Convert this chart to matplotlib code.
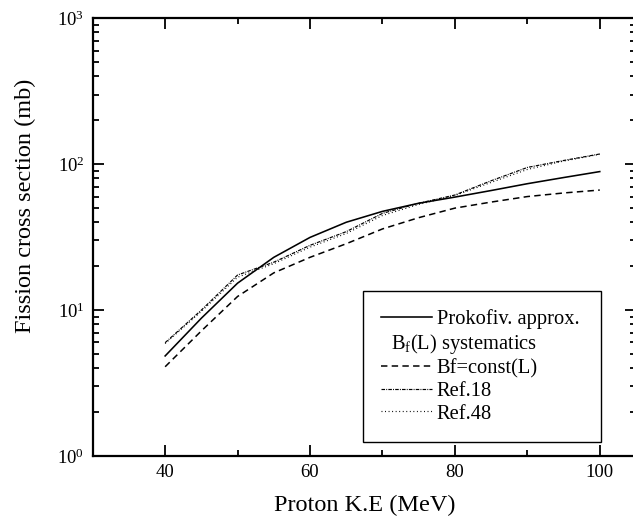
import matplotlib
matplotlib.use("Agg")
import matplotlib.pyplot as plt
from matplotlib.lines import Line2D
from matplotlib.ticker import FixedLocator, LogLocator, NullFormatter, FixedFormatter
import numpy as np

plt.rcParams['font.family'] = ['Liberation Serif', 'DejaVu Serif']
plt.rcParams['mathtext.default'] = 'regular'

energy = [40, 45, 50, 55, 60, 65, 70, 75, 80, 85, 90, 95, 100]
prokofiv = [4.85, 8.8, 15.3, 23.0, 31.5, 40.0, 47.5, 54.0, 59.5, 66.0, 73.5, 81.0, 89.0]
bf_const = [4.09, 7.2, 12.4, 18.0, 23.0, 28.5, 36.0, 43.0, 50.0, 55.0, 60.0, 63.5, 66.5]
ref18 = [5.98, 10.0, 17.4, 21.3, 27.8, 34.5, 46.0, 54.0, 61.5, 77.0, 95.0, 106.0, 117.5]
ref48 = [5.9, 9.8, 16.8, 20.8, 27.0, 33.5, 44.5, 53.0, 61.0, 75.0, 92.0, 105.0, 117.0]

labels = ["Prokofiv. approx.", "B$_f$(L) systematics", "Bf=const(L)", "Ref.18", "Ref.48"]
xticks_major = [40, 60, 80, 100]
xticks_minor = [50, 70, 90]
yticks = [1, 10, 100, 1000]
ytick_labels = ["10$^{0}$", "10$^{1}$", "10$^{2}$", "10$^{3}$"]

W, H = 633, 522
fig = plt.figure(figsize=(W / 100, H / 100), dpi=100)
ax = fig.add_axes([92.7 / W, (H - 456) / H, (636 - 92.7) / W, (456 - 18.3) / H])

l1, = ax.plot(energy, prokofiv, color='black', lw=1.15, linestyle='-')
l3, = ax.plot(energy, bf_const, color='black', lw=1.1, linestyle=(0, (4.2, 2.8)))
l4, = ax.plot(energy, ref18, color='black', lw=0.85, linestyle=(0, (3.0, 1.0, 0.8, 1.0)))
l5, = ax.plot(energy, ref48, color='black', lw=0.85, linestyle=(0, (0.8, 2.2)))
blank = Line2D([], [], linestyle='None', marker=None)

ax.set_yscale('log')
ax.set_xlim(30, 105)
ax.set_ylim(1, 1000)

ax.xaxis.set_major_locator(FixedLocator(xticks_major))
ax.xaxis.set_minor_locator(FixedLocator(xticks_minor))
ax.yaxis.set_major_locator(FixedLocator(yticks))
ax.yaxis.set_major_formatter(FixedFormatter(ytick_labels))
ax.yaxis.set_minor_locator(LogLocator(base=10, subs=np.arange(2, 10)))
ax.yaxis.set_minor_formatter(NullFormatter())

ax.tick_params(which='both', direction='in', top=True, right=True, width=1.3, colors='black')
ax.tick_params(which='major', length=8, pad=6)
ax.tick_params(which='minor', length=4.5)
ax.tick_params(axis='both', labelsize=13.5)
for s in ax.spines.values():
    s.set_linewidth(1.6)

ax.set_xlabel("Proton K.E (MeV)", fontsize=17.5, labelpad=10)
ax.set_ylabel("Fission cross section (mb)", fontsize=17.5)
ax.yaxis.set_label_coords((36 - 92.7) / (636 - 92.7), 0.571)

leg = ax.legend([l1, blank, l3, l4, l5], labels,
                loc='upper left', bbox_to_anchor=(363 / W, 1 - 291 / H),
                bbox_transform=fig.transFigure, borderaxespad=0,
                fontsize=14.8, handlelength=2.5, handletextpad=0.2,
                labelspacing=0.15, borderpad=0.88, frameon=True, fancybox=False,
                edgecolor='black', framealpha=1)
leg.get_frame().set_linewidth(1.0)
leg.get_texts()[1].set_x(-46)

fig.savefig("out.png", dpi=100)
